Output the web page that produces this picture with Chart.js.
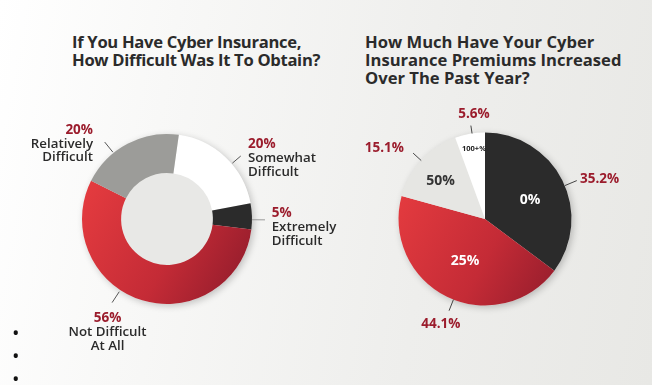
<!DOCTYPE html>
<html><head><meta charset="utf-8">
<script src="https://cdn.jsdelivr.net/npm/chart.js@4"></script>
<style>
html,body{margin:0;padding:0;}
body{width:652px;height:385px;overflow:hidden;position:relative;
 background:linear-gradient(100deg,#ffffff 0%,#f8f8f7 25%,#eeeeec 65%,#e8e8e5 100%);
 font-family:"Open Sans",sans-serif;}
.title{position:absolute;font-weight:700;font-size:16.6px;line-height:18px;color:#2b2b2b;white-space:nowrap;}
canvas{position:absolute;top:0;left:0;}
.bullet{position:absolute;left:12px;font-size:20px;line-height:20px;color:#111;}
</style></head>
<body>
<div class="title" id="t1" style="left:72px;top:33px;letter-spacing:-0.3px"></div>
<div class="title" id="t2" style="left:365px;top:33px"></div>
<canvas id="c1" width="652" height="385"></canvas>
<canvas id="c2" width="652" height="385"></canvas>
<span class="bullet" style="top:323px">•</span>
<span class="bullet" style="top:346px">•</span>
<span class="bullet" style="top:369px">•</span>
<script>
// ---- data ----
const leftTitle = ["If You Have Cyber Insurance,", "How Difficult Was It To Obtain?"];
const rightTitle = ["How Much Have Your Cyber", "Insurance Premiums Increased", "Over The Past Year?"];

const difficultyLabels = ["Somewhat Difficult", "Extremely Difficult", "Not Difficult At All", "Relatively Difficult"];
const difficultyLines = [["Somewhat", "Difficult"], ["Extremely", "Difficult"], ["Not Difficult", "At All"], ["Relatively", "Difficult"]];
const difficultyValues = [20, 5, 56, 20];

const premiumLabels = ["0%", "25%", "50%", "100+%"];
const premiumValues = [35.2, 44.1, 15.1, 5.6];

// ---- styles ----
const RED_DARK = '#9b1c2c';
const TEXT = '#2b2b2b';
const FONT = '"Open Sans", sans-serif';

document.getElementById('t1').innerHTML = leftTitle.join('<br>');
document.getElementById('t2').innerHTML = rightTitle.join('<br>');

function redGradient(chart) {
  const a = chart.chartArea;
  if (!a) return '#c42c34';
  const g = chart.ctx.createLinearGradient(a.left, a.top + a.height * 0.35, a.right, a.bottom - a.height * 0.1);
  g.addColorStop(0, '#e43b3f');
  g.addColorStop(0.55, '#c42b36');
  g.addColorStop(1, '#8f1b2b');
  return g;
}

const deg = d => (d - 90) * Math.PI / 180;

const slicePlugin = {
  id: 'sliceLabels',
  beforeDatasetsDraw(chart, args, opts) {
    const a = chart.getDatasetMeta(0).data[0];
    const ctx = chart.ctx;
    ctx.save();
    ctx.shadowColor = 'rgba(0,0,0,0.22)';
    ctx.shadowBlur = 7;
    ctx.shadowOffsetX = 2;
    ctx.shadowOffsetY = 2;
    ctx.fillStyle = opts.holeColor;
    ctx.beginPath();
    ctx.arc(a.x, a.y, a.outerRadius, 0, Math.PI * 2);
    ctx.fill();
    ctx.restore();
  },
  afterDatasetsDraw(chart, args, opts) {
    const ctx = chart.ctx;
    const arcs = chart.getDatasetMeta(0).data;
    const data = chart.data.datasets[0].data;
    ctx.save();
    opts.items.forEach((it, i) => {
      const a = arcs[i];
      const cx = a.x, cy = a.y, R = a.outerRadius;
      // leader line
      const t = deg(it.lineAngle);
      ctx.strokeStyle = it.lineColor || '#555';
      ctx.lineWidth = 1;
      ctx.beginPath();
      ctx.moveTo(cx + Math.cos(t) * (R + it.l0), cy + Math.sin(t) * (R + it.l0));
      ctx.lineTo(cx + Math.cos(t) * (R + it.l1), cy + Math.sin(t) * (R + it.l1));
      ctx.stroke();
      // text
      ctx.textAlign = it.align;
      ctx.textBaseline = 'alphabetic';
      const x = cx + it.dx, y = cy + it.dy;
      ctx.fillStyle = RED_DARK;
      ctx.font = 'bold 13.5px ' + FONT;
      ctx.fillText(opts.pctText(data[i]), x, y);
      const lines = opts.lines ? opts.lines[i] : [];
      ctx.fillStyle = TEXT;
      ctx.font = '600 13.3px ' + FONT;
      lines.forEach((ln, k) => ctx.fillText(ln, x, y + 13.6 * (k + 1)));
      // inner label
      if (it.inner) {
        const ti = deg(it.inner.angle);
        ctx.textAlign = 'center';
        ctx.textBaseline = 'middle';
        ctx.fillStyle = it.inner.color;
        ctx.font = 'bold ' + it.inner.size + 'px ' + FONT;
        ctx.fillText(opts.innerText[i], cx + Math.cos(ti) * it.inner.dist, cy + Math.sin(ti) * it.inner.dist);
      }
    });
    ctx.restore();
  }
};

new Chart(document.getElementById('c1'), {
  type: 'doughnut',
  data: {
    labels: difficultyLabels,
    datasets: [{
      data: difficultyValues,
      backgroundColor: c => [ '#ffffff', '#2b2b2b', redGradient(c.chart), '#9c9c99' ][c.dataIndex],
      borderWidth: 0,
      hoverOffset: 0
    }]
  },
  options: {
    responsive: false,
    animation: false,
    rotation: 8,
    cutout: '54%',
    layout: { padding: { left: 82, right: 400, top: 134, bottom: 81 } },
    plugins: {
      legend: { display: false },
      tooltip: { enabled: false },
      sliceLabels: {
        holeColor: '#e8e8e6',
        pctText: v => v + '%',
        lines: difficultyLines,
        items: [
          { lineAngle: 49.5, l0: 1, l1: 12, dx: 81, dy: -70.7, align: 'left' },
          { lineAngle: 90.5, l0: 0, l1: 13, dx: 104.7, dy: -1.7, align: 'left', lineColor: '#999' },
          { lineAngle: 213.3, l0: 2, l1: 15, dx: -59.5, dy: 103.3, align: 'center' },
          { lineAngle: 321, l0: 1, l1: 14, dx: -74, dy: -85, align: 'right' }
        ]
      }
    }
  },
  plugins: [slicePlugin]
});

new Chart(document.getElementById('c2'), {
  type: 'pie',
  data: {
    labels: premiumLabels,
    datasets: [{
      data: premiumValues,
      backgroundColor: c => [ '#2b2b2b', redGradient(c.chart), '#e6e6e3', '#ffffff' ][c.dataIndex],
      borderWidth: 0,
      hoverOffset: 0
    }]
  },
  options: {
    responsive: false,
    animation: false,
    rotation: 0,
    layout: { padding: { left: 398.5, right: 80.5, top: 132.5, bottom: 79.5 } },
    plugins: {
      legend: { display: false },
      tooltip: { enabled: false },
      sliceLabels: {
        holeColor: '#e6e6e3',
        pctText: v => v.toFixed(1) + '%',
        innerText: premiumLabels,
        items: [
          { lineAngle: 67.3, l0: 0, l1: 13, dx: 95, dy: -35.7, align: 'left', lineColor: '#444',
            inner: { angle: 67.1, dist: 48.8, color: '#ffffff', size: 14 } },
          { lineAngle: 201.4, l0: 0, l1: 12, dx: -44.2, dy: 109.3, align: 'center', lineColor: '#444',
            inner: { angle: 205.5, dist: 46.5, color: '#ffffff', size: 14 } },
          { lineAngle: 312.5, l0: 0, l1: 11, dx: -81, dy: -67.3, align: 'right', lineColor: '#444',
            inner: { angle: 310.6, dist: 58.4, color: '#333333', size: 14 } },
          { lineAngle: 351.4, l0: 0, l1: 8, dx: -11, dy: -100.7, align: 'center', lineColor: '#444',
            inner: { angle: 351, dist: 70.6, color: '#222222', size: 7.5 } }
        ]
      }
    }
  },
  plugins: [slicePlugin]
});
</script>
</body></html>
